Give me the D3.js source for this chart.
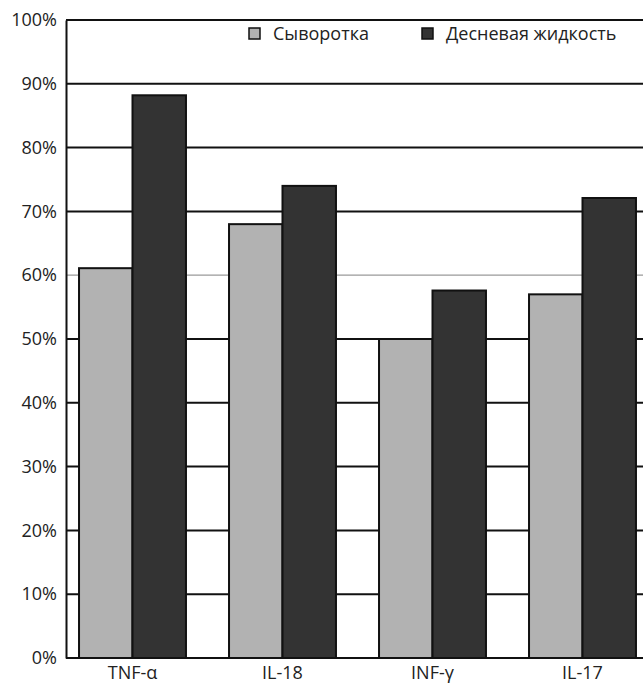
<!DOCTYPE html>
<html>
<head>
<meta charset="utf-8">
<script src="https://cdn.jsdelivr.net/npm/d3@7"></script>
<style>
  html, body { margin: 0; padding: 0; background: #fff; }
  svg { display: block; }
</style>
</head>
<body>
<svg id="chart" width="643" height="685"></svg>
<script>
// Cytokine detection rates: serum vs gingival fluid
const categories = ["TNF-α", "IL-18", "INF-γ", "IL-17"];
const seriesNames = ["Сыворотка", "Десневая жидкость"];
const serum = [61.1, 68.0, 50.0, 57.0];
const gingivalFluid = [88.2, 74.0, 57.6, 72.1];
const yTicks = [0, 10, 20, 30, 40, 50, 60, 70, 80, 90, 100];
const colors = ["#b2b2b2", "#333333"];

const svg = d3.select("#chart");
const font = "'Open Sans', 'Liberation Sans', sans-serif";

const plotTop = 20, plotBottom = 658, plotLeft = 66, plotRight = 660;

const y = d3.scaleLinear().domain([0, 100]).range([plotBottom, plotTop]);
const x = d3.scaleBand().domain(categories).range([57.5, 657.5])
  .paddingInner(0.287).paddingOuter(0.1435);
const xs = d3.scaleBand().domain(seriesNames).range([0, x.bandwidth()]);

// horizontal gridlines
const grid = svg.append("g");
grid.selectAll("line").data(yTicks.filter(t => t > 0)).join("line")
  .attr("x1", plotLeft).attr("x2", plotRight)
  .attr("y1", d => y(d)).attr("y2", d => y(d))
  .attr("stroke", d => d === 60 ? "#9a9a9a" : "#111")
  .attr("stroke-width", d => d === 60 ? 1.2 : 2);

// bars
const data = categories.map((c, i) => ({ cat: c, vals: [serum[i], gingivalFluid[i]] }));
const groups = svg.append("g").selectAll("g").data(data).join("g")
  .attr("transform", d => `translate(${x(d.cat)},0)`);
groups.selectAll("rect").data(d => d.vals.map((v, j) => ({ v, s: seriesNames[j], j })))
  .join("rect")
  .attr("x", d => xs(d.s))
  .attr("width", xs.bandwidth())
  .attr("y", d => y(d.v))
  .attr("height", d => plotBottom - y(d.v))
  .attr("fill", d => colors[d.j])
  .attr("stroke", "#111")
  .attr("stroke-width", 2);

// y axis
const yAxis = d3.axisLeft(y).tickValues(yTicks).tickFormat(d => d + "%").tickSize(0).tickPadding(9);
const ga = svg.append("g").attr("transform", `translate(${plotLeft},0)`).call(yAxis);
ga.select(".domain").attr("stroke", "#111").attr("stroke-width", 2);
ga.selectAll("text").attr("font-family", font).attr("font-size", 18).attr("fill", "#222");

// baseline
svg.append("line").attr("x1", plotLeft).attr("x2", plotRight)
  .attr("y1", plotBottom).attr("y2", plotBottom).attr("stroke", "#111").attr("stroke-width", 2);

// x axis labels
const xAxis = d3.axisBottom(x).tickSize(0).tickPadding(8);
const gx = svg.append("g").attr("transform", `translate(0,${plotBottom})`).call(xAxis);
gx.select(".domain").remove();
gx.selectAll("text").attr("font-family", font).attr("font-size", 18).attr("fill", "#222");

// legend
const legendItems = [
  { name: seriesNames[0], color: colors[0], x: 249 },
  { name: seriesNames[1], color: colors[1], x: 422 }
];
const lg = svg.append("g").selectAll("g").data(legendItems).join("g")
  .attr("transform", d => `translate(${d.x},28)`);
lg.append("rect").attr("width", 11).attr("height", 11)
  .attr("fill", d => d.color).attr("stroke", "#111").attr("stroke-width", 1.5);
lg.append("text").attr("x", 24).attr("y", 6).attr("dy", "0.35em")
  .attr("font-family", font).attr("font-size", 18).attr("fill", "#222")
  .text(d => d.name);
</script>
</body>
</html>
